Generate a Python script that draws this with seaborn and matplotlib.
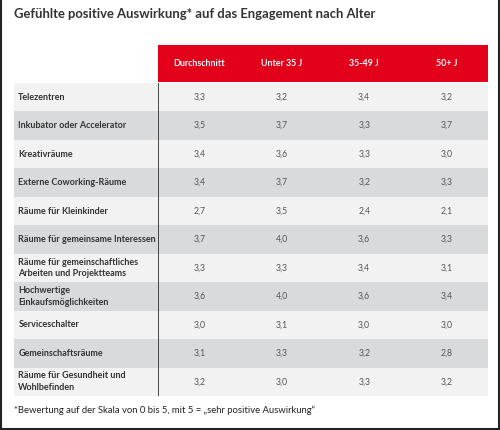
import matplotlib
matplotlib.use("Agg")
import matplotlib.pyplot as plt
import matplotlib.colors as mcolors
import numpy as np
import pandas as pd
import seaborn as sns

### data
kategorien = [
    "Telezentren",
    "Inkubator oder Accelerator",
    "Kreativräume",
    "Externe Coworking-Räume",
    "Räume für Kleinkinder",
    "Räume für gemeinsame Interessen",
    "Räume für gemeinschaftliches\nArbeiten und Projektteams",
    "Hochwertige\nEinkaufsmöglichkeiten",
    "Serviceschalter",
    "Gemeinschaftsräume",
    "Räume für Gesundheit und\nWohlbefinden",
]
spalten = ["Durchschnitt", "Unter 35 J", "35-49 J", "50+ J"]
durchschnitt = [3.3, 3.5, 3.4, 3.4, 2.7, 3.7, 3.3, 3.6, 3.0, 3.1, 3.2]
unter_35 = [3.2, 3.7, 3.6, 3.7, 3.5, 4.0, 3.3, 4.0, 3.1, 3.3, 3.0]
alter_35_49 = [3.4, 3.3, 3.3, 3.2, 2.4, 3.6, 3.4, 3.6, 3.0, 3.2, 3.3]
ueber_50 = [3.2, 3.7, 3.0, 3.3, 2.1, 3.3, 3.1, 3.4, 3.0, 2.8, 3.2]

titel = "Gefühlte positive Auswirkung* auf das Engagement nach Alter"
fussnote = "*Bewertung auf der Skala von 0 bis 5, mit 5 = \u201esehr positive Auswirkung\u201c"

werte = pd.DataFrame(
    {"Durchschnitt": durchschnitt, "Unter 35 J": unter_35,
     "35-49 J": alter_35_49, "50+ J": ueber_50},
    index=kategorien,
)[spalten]
texte = werte.map(lambda v: f"{v:.1f}".replace(".", ","))

# zebra stripes (0 = light, 1 = dark)
n = len(kategorien)
streifen = np.array([i % 2 for i in range(n)], dtype=float)
streifen_dat = pd.DataFrame(np.repeat(streifen[:, None], len(spalten), axis=1),
                            index=kategorien, columns=spalten)
streifen_lab = pd.DataFrame(streifen[:, None], index=kategorien, columns=["lab"])
stripe_cmap = mcolors.ListedColormap(["#f2f2f3", "#d9dadb"])

ROT = "#e2001a"
TXT = "#333333"
FONT = ["Lato", "DejaVu Sans"]

sns.set_theme(style="white")
plt.rcParams["font.family"] = FONT

W, H = 500, 430
fig = plt.figure(figsize=(W / 100, H / 100), dpi=100)
fig.patch.set_facecolor("white")


def box(x0, x1, y0, y1):
    return [x0 / W, 1 - y1 / H, (x1 - x0) / W, (y1 - y0) / H]


### label column
ax_lab = fig.add_axes(box(14, 158, 83, 396))
sns.heatmap(streifen_lab, cmap=stripe_cmap, vmin=0, vmax=1, cbar=False,
            xticklabels=False, yticklabels=False, ax=ax_lab)
for i, name in enumerate(kategorien):
    ax_lab.text(0.03, i + 0.5, name, ha="left", va="center", fontsize=6.45,
                fontweight="bold", color=TXT, linespacing=1.4)

### value columns
ax_dat = fig.add_axes(box(158, 488, 83, 396))
sns.heatmap(streifen_dat, cmap=stripe_cmap, vmin=0, vmax=1, cbar=False,
            annot=texte, fmt="", annot_kws={"fontsize": 6.3, "color": "#555555"},
            xticklabels=False, yticklabels=False, ax=ax_dat)
ax_dat.axvline(0, color="#2b2b2b", lw=1.2)

### red header
ax_head = fig.add_axes(box(158, 488, 45, 82))
kopf = pd.DataFrame([[1.0] * len(spalten)], columns=spalten)
kopf_txt = pd.DataFrame([spalten], columns=spalten)
sns.heatmap(kopf, cmap=mcolors.ListedColormap([ROT]), cbar=False,
            annot=kopf_txt, fmt="",
            annot_kws={"fontsize": 6.4, "color": "white", "fontweight": "bold"},
            xticklabels=False, yticklabels=False, ax=ax_head)

### title, footnote, frame
fig.text(14 / W, 1 - 14 / H, titel, ha="left", va="center", fontsize=9.35,
         fontweight="bold", color=TXT)
fig.text(14 / W, 1 - 410 / H, fussnote, ha="left", va="center", fontsize=6.8,
         color="#222222")

fig.add_artist(plt.Line2D([0.002, 0.002], [0, 1], color="#222222", lw=1.5))
fig.add_artist(plt.Line2D([0.997, 0.997], [0, 1], color="#222222", lw=1.5))
fig.add_artist(plt.Line2D([0, 1], [0.003, 0.003], color="#222222", lw=1.5))

fig.savefig("out.png", dpi=100, facecolor="white")
